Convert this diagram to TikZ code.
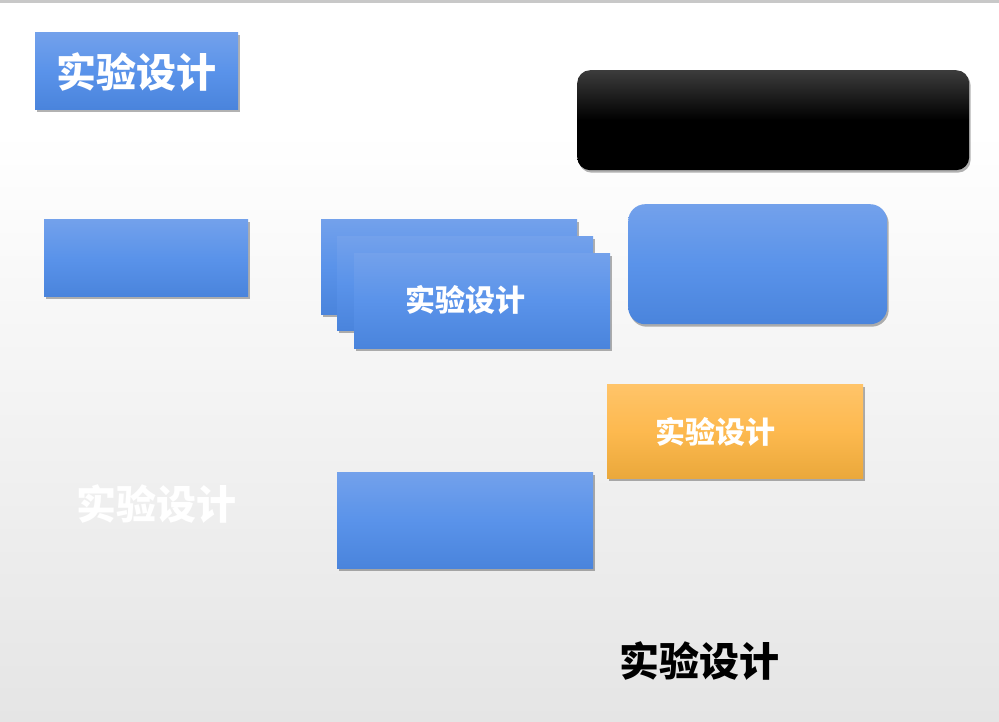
\documentclass[tikz,border=0pt]{standalone}
\usepackage{fontspec}
\newfontfamily\cjk{Noto Sans CJK SC}
\usetikzlibrary{shadows}
\definecolor{bluetop}{HTML}{73A1EB}
\definecolor{bluemid}{HTML}{5A93EA}
\definecolor{bluebot}{HTML}{4A84DC}
\definecolor{orgtop}{HTML}{FFC469}
\definecolor{orgmid}{HTML}{FDB94F}
\definecolor{orgbot}{HTML}{EAA83B}
\definecolor{bgbot}{HTML}{E5E5E5}
\definecolor{topline}{HTML}{C8C8C8}
\definecolor{blacktop}{HTML}{3C3C3C}
\tikzset{
  shd/.style={drop shadow={shadow xshift=1.5pt,shadow yshift=-2.5pt,opacity=0.3,fill=black}},
  bluebox/.style={shd,anchor=north west,inner sep=0pt,top color=bluetop,bottom color=bluebot,middle color=bluemid,draw=none},
  orgbox/.style={shd,anchor=north west,inner sep=0pt,top color=orgtop,bottom color=orgbot,middle color=orgmid,draw=none},
  blackbox/.style={shd,anchor=north west,inner sep=0pt,top color=blacktop,bottom color=black,middle color=black,draw=none,rounded corners=13pt},
  bigtxt/.style={font=\cjk\bfseries\fontsize{40}{44}\selectfont,inner sep=0pt},
  midtxt/.style={font=\cjk\bfseries\fontsize{30}{34}\selectfont,inner sep=0pt,text=white}
}
\begin{document}
\begin{tikzpicture}[x=1pt,y=-1pt]
\useasboundingbox (0,0) rectangle (999,722);
\fill[white] (0,0) rectangle (999,130);
\shade[top color=white,bottom color=bgbot] (0,130) rectangle (999,722);
\fill[topline] (0,0) rectangle (999,3);
% title box
\node[bluebox,minimum width=203pt,minimum height=77pt] (title) at (35,32) {};
\node[bigtxt,text=white] (titletxt) at (136.5,72) {实验设计};
% black rounded box
\node[blackbox,minimum width=392pt,minimum height=100pt] (black) at (577,70) {};
% left blue box
\node[bluebox,minimum width=204pt,minimum height=77pt] (left) at (44,219) {};
% stack
\node[bluebox,minimum width=256pt,minimum height=95pt] (stackA) at (321,219) {};
\node[bluebox,minimum width=256pt,minimum height=94pt] (stackB) at (337,236) {};
\node[bluebox,minimum width=256pt,minimum height=95pt] (stackC) at (354,253) {};
\node[midtxt] (stacktxt) at (465,300) {实验设计};
% rounded blue box
\node[bluebox,rounded corners=17pt,minimum width=259pt,minimum height=120pt] (round) at (628,204) {};
% orange box
\node[orgbox,minimum width=256pt,minimum height=94pt] (orange) at (607,384) {};
\node[midtxt] (orgtxt) at (715,432) {实验设计};
% white text
\node[bigtxt,text=white] (whitetxt) at (156,504) {实验设计};
% lower blue box
\node[bluebox,minimum width=256pt,minimum height=96pt] (lower) at (337,472) {};
% black text
\node[bigtxt,text=black] (blacktxt) at (699,661) {实验设计};
\end{tikzpicture}
\end{document}
